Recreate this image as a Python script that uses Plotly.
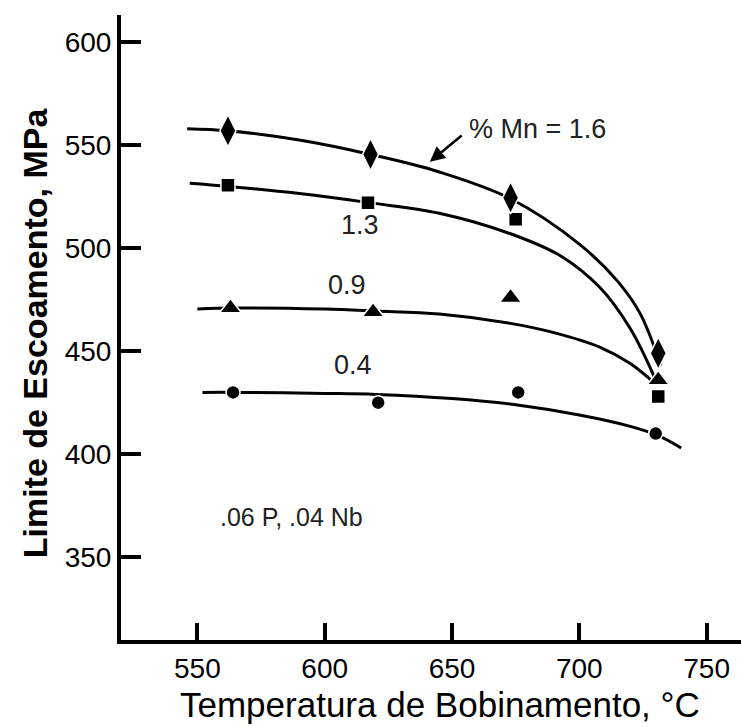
import plotly.graph_objects as go

# ---- measured points (°C, MPa) ----
mn16_x = [562, 618, 673, 731]
mn16_y = [557, 545.5, 524.5, 449]
mn13_x = [562, 617, 675, 731]
mn13_y = [530.5, 522, 514, 428]
mn09_x = [563, 619, 673, 731]
mn09_y = [471, 469, 476, 436]
mn04_x = [564, 621, 676, 730]
mn04_y = [430, 425, 430, 410]

# ---- hand-drawn fitted curves ----
c16_x = [546, 562, 590, 618, 645, 673, 700, 715, 724, 732]
c16_y = [558, 557, 552.5, 545.5, 537, 524, 502, 484, 468, 443]
c13_x = [547, 562, 590, 618, 645, 673, 693, 708, 720, 730]
c13_y = [531.5, 530, 526.5, 522, 517, 507, 496, 481, 461, 436]
c09_x = [550, 565, 600, 620, 645, 673, 690, 708, 720, 730]
c09_y = [470.5, 471, 470.5, 469.5, 468, 463.5, 459, 452, 444, 434]
c04_x = [552, 565, 600, 620, 650, 675, 700, 720, 731, 740]
c04_y = [430, 430, 429.5, 429, 427, 424, 419, 413.5, 409, 403]

x_ticks = [550, 600, 650, 700, 750]
y_ticks = [350, 400, 450, 500, 550, 600]

fig = go.Figure()

for cx, cy in [(c16_x, c16_y), (c13_x, c13_y), (c09_x, c09_y), (c04_x, c04_y)]:
    fig.add_trace(go.Scatter(x=cx, y=cy, mode="lines",
                             line=dict(color="black", width=3, shape="spline", smoothing=1.0),
                             showlegend=False, hoverinfo="skip"))

marker_specs = [
    (mn13_x, mn13_y, "square", 14),
    (mn09_x, mn09_y, "triangle-up", 19),
    (mn04_x, mn04_y, "circle", 14),
    (mn16_x, mn16_y, "diamond-tall", 23),
]
for mx, my, sym, sz in marker_specs:
    fig.add_trace(go.Scatter(x=mx, y=my, mode="markers",
                             marker=dict(symbol=sym, size=sz, color="black",
                                         line=dict(color="white", width=1.5)),
                             showlegend=False))

ann_font = dict(family="Liberation Sans, Arial", size=27, color="#222")
fig.add_annotation(x=656, y=557.8, text="% Mn = 1.6", showarrow=False,
                   xanchor="left", yanchor="middle", font=ann_font)
fig.add_annotation(x=641.3, y=542, ax=654.4, ay=555.3, axref="x", ayref="y",
                   text="", showarrow=True, arrowhead=2, arrowsize=1.2,
                   arrowwidth=2.5, arrowcolor="black")
fig.add_annotation(x=613.7, y=511.5, text="1.3", showarrow=False, font=ann_font)
fig.add_annotation(x=608.6, y=482.3, text="0.9", showarrow=False, font=ann_font)
fig.add_annotation(x=611, y=443.2, text="0.4", showarrow=False, font=ann_font)
fig.add_annotation(x=558.2, y=369.7, text=".06 P, .04 Nb", showarrow=False,
                   xanchor="left", font=dict(family="Liberation Sans, Arial", size=25, color="#222"))

# axis titles
fig.add_annotation(xref="paper", yref="paper", x=0.5145, y=-0.1035,
                   text="Temperatura de Bobinamento, °C", showarrow=False,
                   xanchor="center", yanchor="middle",
                   font=dict(family="Liberation Sans, Arial", size=35, color="black"))
fig.add_annotation(xref="paper", yref="paper", x=-0.139, y=0.492,
                   text="<b>Limite de Escoamento, MPa</b>", showarrow=False,
                   textangle=-90, xanchor="center", yanchor="middle",
                   font=dict(family="Liberation Sans, Arial", size=34, color="black"))

axis_common = dict(showgrid=False, zeroline=False, showline=True, linecolor="black",
                   linewidth=4, ticks="inside", tickcolor="black", tickwidth=4,
                   tickfont=dict(family="Liberation Sans, Arial", size=28, color="black"))
fig.update_xaxes(range=[520, 763.5], tickvals=x_ticks, ticklen=17, **axis_common)
fig.update_yaxes(range=[309.8, 613.2], tickvals=y_ticks, ticklen=20, **axis_common)

fig.update_layout(width=741, height=727, margin=dict(l=121, r=0, t=15, b=87),
                  plot_bgcolor="white", paper_bgcolor="white")

fig.write_html("out.html")
